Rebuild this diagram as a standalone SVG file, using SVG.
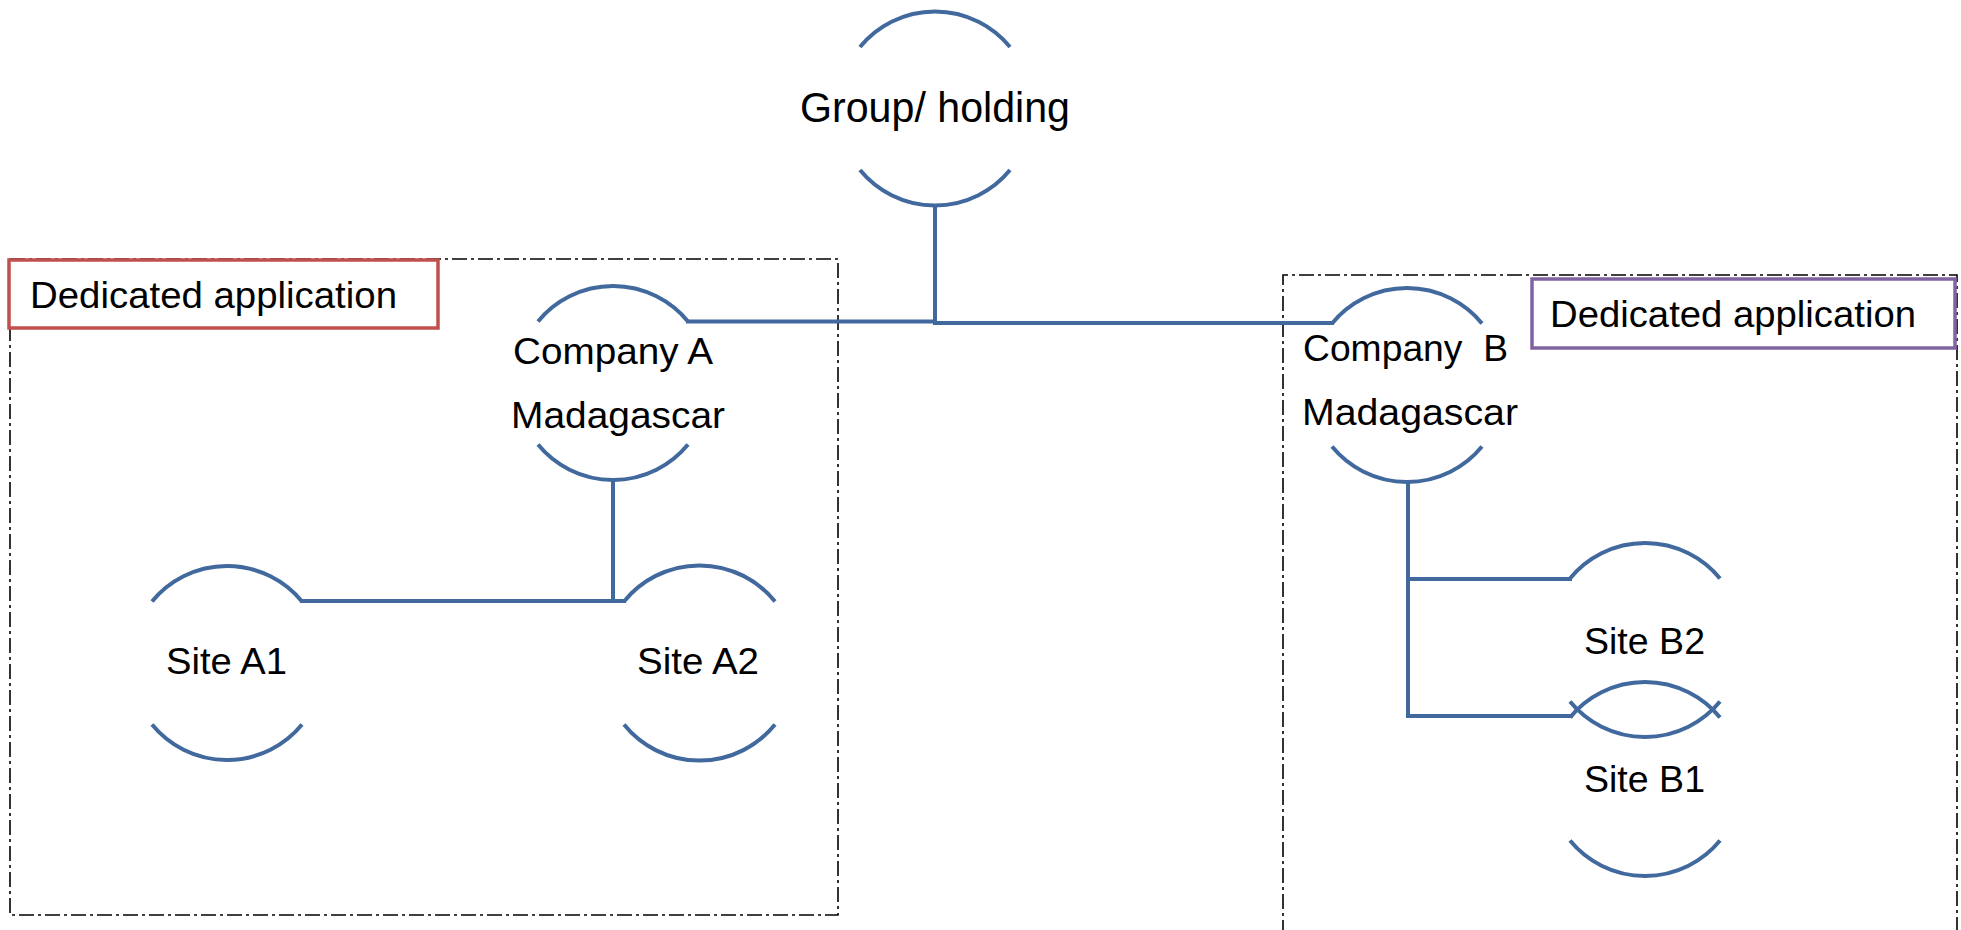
<svg xmlns="http://www.w3.org/2000/svg" width="1961" height="930" viewBox="0 0 1961 930">
  <style>
    .arc { fill: none; stroke: #41699e; stroke-width: 4; }
    .wire { fill: none; stroke: #41699e; stroke-width: 4; stroke-linecap: square; }
    .scope { fill: none; stroke: #000; stroke-width: 1.6; stroke-dasharray: 15 4 3 4; }
    .tag-a { fill: #fff; stroke: #c0504d; stroke-width: 3.5; }
    .tag-b { fill: #fff; stroke: #8064a2; stroke-width: 3.5; }
    text { font-family: "Liberation Sans", Arial, sans-serif; fill: #000; white-space: pre; }
    .lbl { font-size: 37.5px; }
    .big { font-size: 43px; }
  </style>

  <rect width="1961" height="930" fill="#fff"/>

  <!-- dashed scope boxes -->
  <g id="scope-a">
    <rect class="scope" x="10" y="259" width="828" height="656"/>
    <rect class="tag-a" x="9" y="260" width="429" height="68"/>
    <text class="lbl" x="30" y="308" textLength="367" lengthAdjust="spacingAndGlyphs">Dedicated application</text>
  </g>
  <g id="scope-b">
    <path class="scope" d="M1283 935 V275 H1957 V935"/>
    <rect class="tag-b" x="1532" y="279" width="423" height="69"/>
    <text class="lbl" x="1550" y="327" textLength="366" lengthAdjust="spacingAndGlyphs">Dedicated application</text>
  </g>

  <!-- connectors -->
  <g id="connectors">
    <path class="wire" d="M935 207 V323"/>
    <path class="wire" d="M688 321.5 H935"/>
    <path class="wire" d="M935 323 H1332"/>
    <path class="wire" d="M613 481 V600"/>
    <path class="wire" d="M302 601 H624"/>
    <path class="wire" d="M1408 483 V716"/>
    <path class="wire" d="M1408 579 H1570"/>
    <path class="wire" d="M1408 716 H1571"/>
  </g>

  <!-- nodes: circles drawn as a top and bottom arc -->
  <g id="group-holding">
    <path class="arc" d="M860 47 A97 97 0 0 1 1010 47"/>
    <path class="arc" d="M860 170 A97 97 0 0 0 1010 170"/>
    <text class="big" x="800" y="122" textLength="270" lengthAdjust="spacingAndGlyphs">Group/ holding</text>
  </g>

  <g id="company-a">
    <path class="arc" d="M538 321.5 A97 97 0 0 1 688 321.5"/>
    <path class="arc" d="M538 444.5 A97 97 0 0 0 688 444.5"/>
    <text class="lbl" x="513" y="364" textLength="200" lengthAdjust="spacingAndGlyphs">Company A</text>
    <text class="lbl" x="511" y="428" textLength="214" lengthAdjust="spacingAndGlyphs">Madagascar</text>
  </g>

  <g id="company-b">
    <path class="arc" d="M1332 323.5 A97 97 0 0 1 1482 323.5"/>
    <path class="arc" d="M1332 446.5 A97 97 0 0 0 1482 446.5"/>
    <text class="lbl" x="1303" y="361" textLength="205" lengthAdjust="spacingAndGlyphs">Company  B</text>
    <text class="lbl" x="1302" y="425" textLength="216" lengthAdjust="spacingAndGlyphs">Madagascar</text>
  </g>

  <g id="site-a1">
    <path class="arc" d="M152 601.5 A97 97 0 0 1 302 601.5"/>
    <path class="arc" d="M152 724.5 A97 97 0 0 0 302 724.5"/>
    <text class="lbl" x="166" y="674" textLength="121" lengthAdjust="spacingAndGlyphs">Site A1</text>
  </g>

  <g id="site-a2">
    <path class="arc" d="M624 601.5 A97 97 0 0 1 775 601.5"/>
    <path class="arc" d="M624 724.5 A97 97 0 0 0 775 724.5"/>
    <text class="lbl" x="637" y="674" textLength="122" lengthAdjust="spacingAndGlyphs">Site A2</text>
  </g>

  <g id="site-b2">
    <path class="arc" d="M1570 578.5 A97 97 0 0 1 1720 578.5"/>
    <path class="arc" d="M1570 701.5 A97 97 0 0 0 1720 701.5"/>
    <text class="lbl" x="1584" y="654" textLength="121" lengthAdjust="spacingAndGlyphs">Site B2</text>
  </g>

  <g id="site-b1">
    <path class="arc" d="M1570 717.5 A97 97 0 0 1 1720 717.5"/>
    <path class="arc" d="M1570 840.5 A97 97 0 0 0 1720 840.5"/>
    <text class="lbl" x="1584" y="792" textLength="121" lengthAdjust="spacingAndGlyphs">Site B1</text>
  </g>
</svg>
